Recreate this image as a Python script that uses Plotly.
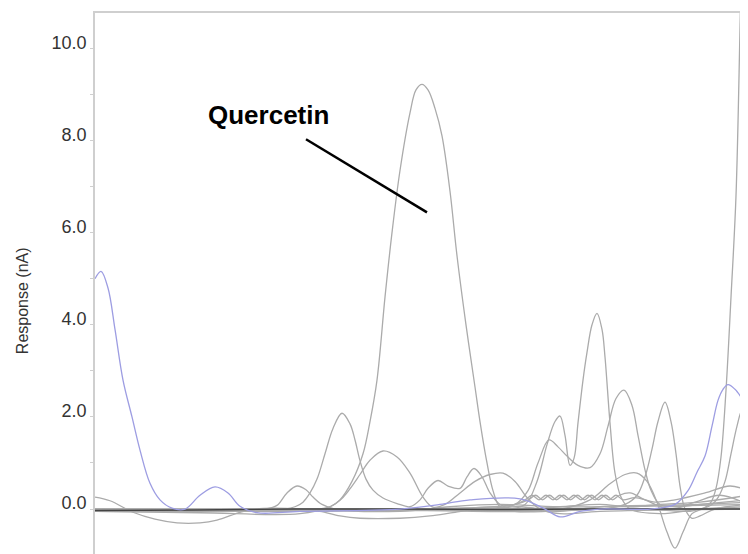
import plotly.graph_objects as go

# Retention time (min) and response (nA)
blue_t = [0.0, 0.6, 1.3, 2.0, 2.8, 3.7, 4.5, 5.5, 6.5, 7.7, 9.0, 10.5, 12.0, 13.3, 14.5, 16.2, 20.5, 30.5, 34.5, 37.5,
          42.5, 45.0, 46.5, 48.5, 50.5, 55.5, 58.0, 59.3, 60.2, 61.0, 61.7, 62.3, 62.8, 63.3, 64.0, 64.7, 65.3]
blue_y = [5.0, 5.16, 4.8, 3.9, 2.8, 2.0, 1.28, 0.56, 0.2, 0.02, 0.0, 0.3, 0.48, 0.35, 0.06, -0.08, -0.05, 0.0, 0.1, 0.2,
          0.22, 0.0, -0.17, -0.05, 0.0, 0.0, 0.1, 0.4, 0.8, 1.15, 1.8, 2.36, 2.6, 2.7, 2.6, 2.4, 2.2]

querc_t = [0.0, 10.5, 20.5, 23.5, 24.5, 25.7, 26.8, 27.5, 28.2, 29.0, 29.7, 30.5, 31.5, 32.1, 32.7, 33.3, 34.0, 34.7,
           35.5, 36.2, 37.1, 38.0, 38.5, 39.2, 39.8, 40.5, 42.0, 50.5, 65.3]
querc_y = [-0.05, -0.08, -0.1, 0.05, 0.2, 0.6, 1.2, 1.9, 2.8, 4.6, 6.0, 7.35, 8.6, 9.1, 9.22, 9.1, 8.7, 8.1,
           6.9, 5.5, 4.0, 2.65, 1.9, 1.0, 0.4, 0.05, -0.05, 0.0, 0.0]

p1_t = [0.0, 15.5, 19.0, 20.0, 20.8, 21.5, 22.2, 23.0, 23.8, 24.7, 25.5, 26.0, 26.5, 27.1, 27.8, 28.8, 30.2, 31.5,
        32.5, 33.3, 34.3, 35.3, 36.5, 37.2, 37.9, 38.7, 39.5, 40.5, 42.0, 46.5, 50.5, 53.5, 56.5, 60.5, 65.3]
p1_y = [0.0, -0.03, 0.0, 0.05, 0.15, 0.35, 0.65, 1.2, 1.75, 2.08, 1.85, 1.5, 1.05, 0.65, 0.41, 0.24, 0.12, 0.05,
        0.2, 0.45, 0.62, 0.5, 0.45, 0.7, 0.88, 0.7, 0.35, 0.1, 0.0, 0.05, 0.1, 0.05, 0.1, 0.15, 0.3]

p2_t = [0.0, 20.5, 23.5, 24.8, 25.7, 26.5, 27.5, 28.8, 30.2, 31.5, 32.8, 33.8, 35.0, 36.5, 38.0, 39.5, 40.8, 42.0,
        43.2, 44.5, 46.5, 50.5, 65.3]
p2_y = [0.0, -0.02, 0.05, 0.25, 0.5, 0.75, 1.06, 1.26, 1.13, 0.78, 0.26, 0.04, 0.1, 0.35, 0.6, 0.75, 0.78, 0.6,
        0.25, 0.0, -0.1, -0.05, 0.0]

p3_t = [0.0, 10.5, 17.0, 18.2, 19.2, 20.2, 21.1, 21.8, 22.7, 24.0, 30.5, 35.5, 40.5, 46.5, 65.3]
p3_y = [-0.05, -0.05, 0.0, 0.08, 0.35, 0.5, 0.42, 0.26, 0.1, 0.0, -0.05, 0.05, 0.1, 0.05, 0.1]

low_t = [0.0, 1.5, 3.8, 6.0, 8.2, 10.5, 12.2, 14.5, 16.0, 20.5, 22.5, 24.5, 26.5, 30.5, 33.5, 36.0, 38.5, 42.5,
         46.5, 50.5, 60.5, 65.3]
low_y = [0.26, 0.18, -0.07, -0.22, -0.3, -0.3, -0.24, -0.07, 0.0, 0.0, -0.05, -0.15, -0.2, -0.2, -0.15, -0.07, 0.0, 0.05,
         -0.05, 0.05, 0.1, 0.15]

p4_t = [0.0, 20.0, 40.5, 43.0, 44.2, 45.2, 46.0, 46.5, 47.0, 47.5, 47.9, 48.3, 48.8, 49.2, 49.7, 50.2, 50.7, 51.0,
        51.5, 52.0, 52.6, 53.5, 56.5, 60.5, 65.3]
p4_y = [0.0, -0.02, 0.0, 0.1, 0.6, 1.4, 1.9, 2.02, 1.6, 0.95, 1.1, 1.87, 2.8, 3.4, 4.0, 4.25, 3.9, 3.3,
        1.87, 0.78, 0.26, 0.0, -0.1, 0.0, 0.05]

p5_t = [0.0, 20.0, 39.5, 42.0, 43.3, 44.3, 45.4, 46.3, 47.2, 48.3, 49.5, 50.5, 51.3, 52.1, 52.9, 53.7, 54.3, 55.0,
        55.6, 56.5, 58.0, 60.5, 65.3]
p5_y = [0.0, 0.0, 0.0, 0.1, 0.4, 1.0, 1.5, 1.35, 1.15, 0.95, 0.9, 1.2, 1.8, 2.4, 2.58, 2.25, 1.6, 0.85,
        0.41, 0.1, 0.05, 0.1, 0.2]

p6_t = [0.0, 25.0, 46.5, 49.5, 51.5, 53.0, 54.2, 55.2, 56.2, 57.2, 58.0, 58.8, 59.7, 60.7, 61.7, 62.3, 63.0, 63.6,
        64.2, 64.7, 65.1, 65.3]
p6_y = [0.0, 0.0, 0.0, 0.2, 0.55, 0.75, 0.78, 0.6, 0.15, -0.5, -0.85, -0.5, -0.1, 0.0, 0.1, 0.25, 0.6, 1.2,
        1.8, 2.15, 2.2, 2.18]

p7_t = [0.0, 25.0, 50.5, 53.0, 54.2, 55.0, 55.7, 56.3, 57.0, 57.6, 58.1, 58.5, 59.0, 59.7, 60.5, 62.0, 65.3]
p7_y = [0.0, 0.0, 0.0, 0.1, 0.3, 0.7, 1.3, 1.9, 2.32, 1.9, 1.2, 0.5, 0.0, -0.2, -0.15, 0.0, 0.1]

p8_t = [0.0, 30.0, 55.0, 59.5, 60.5, 61.1, 61.6, 62.1, 62.6, 63.1, 63.6, 64.1, 64.55, 65.0]
p8_y = [0.0, 0.0, 0.0, -0.05, 0.0, 0.05, 0.15, 0.45, 1.13, 2.58, 4.6, 6.8, 10.9, 15.0]

wig1_t = [0.0, 30.0, 42.0, 43.0, 43.7, 44.4, 45.1, 45.8, 46.5, 47.2, 47.9, 48.6, 49.3, 50.0, 50.7, 51.4, 52.1, 52.8,
          54.0, 56.0, 58.0, 61.0, 63.5, 65.3]
wig1_y = [0.0, 0.0, 0.1, 0.2, 0.3, 0.2, 0.3, 0.2, 0.3, 0.2, 0.3, 0.2, 0.3, 0.2, 0.3, 0.2, 0.3, 0.2,
          0.25, 0.15, 0.2, 0.35, 0.5, 0.4]
wig2_t = [0.0, 30.0, 42.0, 43.35, 44.05, 44.75, 45.45, 46.15, 46.85, 47.55, 48.25, 48.95, 49.65, 50.35, 51.05, 51.75,
          52.45, 53.5, 55.0, 57.5, 60.0, 62.5, 65.3]
wig2_y = [-0.03, -0.03, 0.1, 0.2, 0.3, 0.2, 0.3, 0.2, 0.3, 0.2, 0.3, 0.2, 0.3, 0.2, 0.3, 0.2,
          0.3, 0.35, 0.2, 0.0, 0.15, 0.3, 0.1]

base_t = [0.0, 10.0, 20.0, 30.0, 40.0, 50.0, 60.0, 65.3]
base_y = [-0.03, -0.02, 0.0, 0.0, -0.01, 0.0, 0.0, 0.0]

y_ticks = [0, 2, 4, 6, 8, 10]

GREY = "#ababab"
fig = go.Figure()

grey_series = [(querc_t, querc_y), (p1_t, p1_y), (p2_t, p2_y), (p3_t, p3_y), (low_t, low_y),
               (p4_t, p4_y), (p5_t, p5_y), (p6_t, p6_y), (p7_t, p7_y), (p8_t, p8_y),
               (wig1_t, wig1_y), (wig2_t, wig2_y)]
for xs, ys in grey_series:
    fig.add_trace(go.Scatter(x=xs, y=ys, mode="lines",
                             line=dict(color=GREY, width=1.3, shape="spline", smoothing=1.0),
                             showlegend=False, hoverinfo="skip"))

fig.add_trace(go.Scatter(x=base_t, y=base_y, mode="lines",
                         line=dict(color="#444444", width=1.4, shape="spline"),
                         showlegend=False, hoverinfo="skip"))
fig.add_trace(go.Scatter(x=blue_t, y=blue_y, mode="lines",
                         line=dict(color="#9d9de2", width=1.3, shape="spline", smoothing=1.0),
                         showlegend=False, hoverinfo="skip"))

fig.add_shape(type="line", xref="x", yref="y", x0=21.1, y0=8.03, x1=33.2, y1=6.44,
              line=dict(color="black", width=2.5))
fig.add_annotation(x=17.3, y=8.55, xref="x", yref="y", text="<b>Quercetin</b>", showarrow=False,
                   font=dict(family="Liberation Sans, Arial", size=26, color="black"))
fig.add_annotation(x=-0.112, y=0.469, xref="paper", yref="paper", text="Response (nA)",
                   textangle=-90, showarrow=False, xanchor="center", yanchor="middle",
                   font=dict(family="Liberation Sans, Arial", size=16, color="#333333"))

fig.update_layout(
    width=740, height=546,
    margin=dict(l=87, r=0, t=5, b=0),
    paper_bgcolor="white", plot_bgcolor="white",
    xaxis=dict(range=[0, 65.3], side="top", showline=True, linecolor="#cfcfcf", linewidth=1.5,
               showticklabels=False, ticks="", showgrid=False, zeroline=False, automargin=False),
    yaxis=dict(range=[-0.976, 10.77], showline=True, linecolor="#cfcfcf", linewidth=1.5,
               showgrid=False, zeroline=False, ticks="outside", ticklen=3, tickcolor="#cfcfcf",
               tickvals=y_ticks, tickformat=".1f", ticklabelshift=-6, automargin=False,
               tickfont=dict(family="Liberation Sans, Arial", size=18, color="#333333"),
               minor=dict(dtick=1, tick0=0, ticks="outside", ticklen=3, tickcolor="#cfcfcf")),
)

fig.write_html("out.html")
